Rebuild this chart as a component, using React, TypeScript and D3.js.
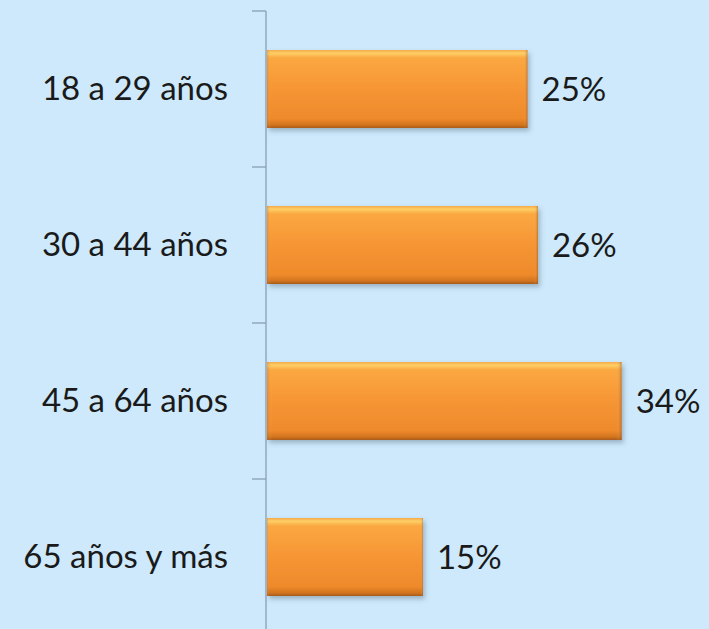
import React, { useEffect, useRef } from 'react';
import * as d3 from 'd3';

const categories = ['18 a 29 años', '30 a 44 años', '45 a 64 años', '65 años y más'];
const values = [25, 26, 34, 15];
const valueLabels = ['25%', '26%', '34%', '15%'];

const App = () => {
  const ref = useRef<SVGSVGElement | null>(null);

  useEffect(() => {
    const width = 709;
    const height = 629;
    const axisX = 266;
    const top = 11;
    const band = 156;

    const svg = d3.select(ref.current);
    svg.selectAll('*').remove();

    const defs = svg.append('defs');
    const grad = defs.append('linearGradient')
      .attr('id', 'barFill')
      .attr('x1', 0).attr('y1', 0).attr('x2', 0).attr('y2', 1);
    [
      ['0%', '#f6a94a'],
      ['4%', '#fdd066'],
      ['10%', '#fba842'],
      ['50%', '#f69534'],
      ['88%', '#ee8a2b'],
      ['96%', '#d2741f'],
      ['100%', '#a85a1a'],
    ].forEach(([o, c]) => grad.append('stop').attr('offset', o).attr('stop-color', c));

    const side = defs.append('linearGradient')
      .attr('id', 'barSide')
      .attr('x1', 0).attr('y1', 0).attr('x2', 1).attr('y2', 0);
    [
      ['0%', 'rgba(190,100,30,0.35)'],
      ['1.5%', 'rgba(255,200,120,0)'],
      ['98.5%', 'rgba(255,200,120,0)'],
      ['100%', 'rgba(140,70,20,0.45)'],
    ].forEach(([o, c]) => side.append('stop').attr('offset', o).attr('stop-color', c));

    const shadow = defs.append('filter').attr('id', 'shadow')
      .attr('x', '-5%').attr('y', '-10%').attr('width', '115%').attr('height', '130%');
    shadow.append('feDropShadow')
      .attr('dx', 2).attr('dy', 3).attr('stdDeviation', 2.5)
      .attr('flood-color', '#5a6f80').attr('flood-opacity', 0.45);

    svg.append('rect')
      .attr('width', width).attr('height', height)
      .attr('fill', '#cde9fb');

    const y = d3.scaleBand<string>()
      .domain(categories)
      .range([top, top + band * categories.length])
      .paddingInner(0.5)
      .paddingOuter(0.25);

    const x = d3.scaleLinear().domain([0, 40]).range([axisX, axisX + 418.4]);

    // axis line + ticks between categories
    const tickYs = categories.map((_, i) => top + band * i);
    svg.append('line')
      .attr('x1', axisX).attr('x2', axisX)
      .attr('y1', top).attr('y2', height + 10)
      .attr('stroke', '#8a9fb5').attr('stroke-width', 1.3);
    svg.selectAll('.tick')
      .data(tickYs)
      .enter()
      .append('line')
      .attr('x1', axisX - 14).attr('x2', axisX)
      .attr('y1', d => d).attr('y2', d => d)
      .attr('stroke', '#8a9fb5').attr('stroke-width', 1.3);

    const rows = categories.map((c, i) => ({ c, v: values[i], label: valueLabels[i] }));

    const g = svg.append('g');
    g.selectAll('.bar')
      .data(rows)
      .enter()
      .append('rect')
      .attr('x', axisX + 1)
      .attr('y', d => y(d.c)!)
      .attr('width', d => x(d.v) - axisX - 1)
      .attr('height', y.bandwidth())
      .attr('fill', 'url(#barFill)')
      .attr('filter', 'url(#shadow)');
    g.selectAll('.bar-side')
      .data(rows)
      .enter()
      .append('rect')
      .attr('x', axisX + 1)
      .attr('y', d => y(d.c)!)
      .attr('width', d => x(d.v) - axisX - 1)
      .attr('height', y.bandwidth())
      .attr('fill', 'url(#barSide)');

    // value labels
    svg.selectAll('.val')
      .data(rows)
      .enter()
      .append('text')
      .attr('x', d => x(d.v) + 14)
      .attr('y', d => y(d.c)! + y.bandwidth() / 2 + 4)
      .attr('dominant-baseline', 'middle')
      .attr('font-family', 'Lato, "Open Sans", sans-serif')
      .attr('font-size', 33)
      .attr('fill', '#1a1a1a')
      .text(d => d.label);

    // category labels
    svg.selectAll('.cat')
      .data(rows)
      .enter()
      .append('text')
      .attr('x', 228)
      .attr('y', d => y(d.c)! + y.bandwidth() / 2 + 3)
      .attr('text-anchor', 'end')
      .attr('dominant-baseline', 'middle')
      .attr('font-family', 'Lato, "Open Sans", sans-serif')
      .attr('font-size', 33)
      .attr('fill', '#1a1a1a')
      .text(d => d.c);
  }, []);

  return (
    <svg
      ref={ref}
      width={709}
      height={629}
      style={{ position: 'absolute', left: 0, top: 0, display: 'block' }}
    />
  );
};

export default App;
